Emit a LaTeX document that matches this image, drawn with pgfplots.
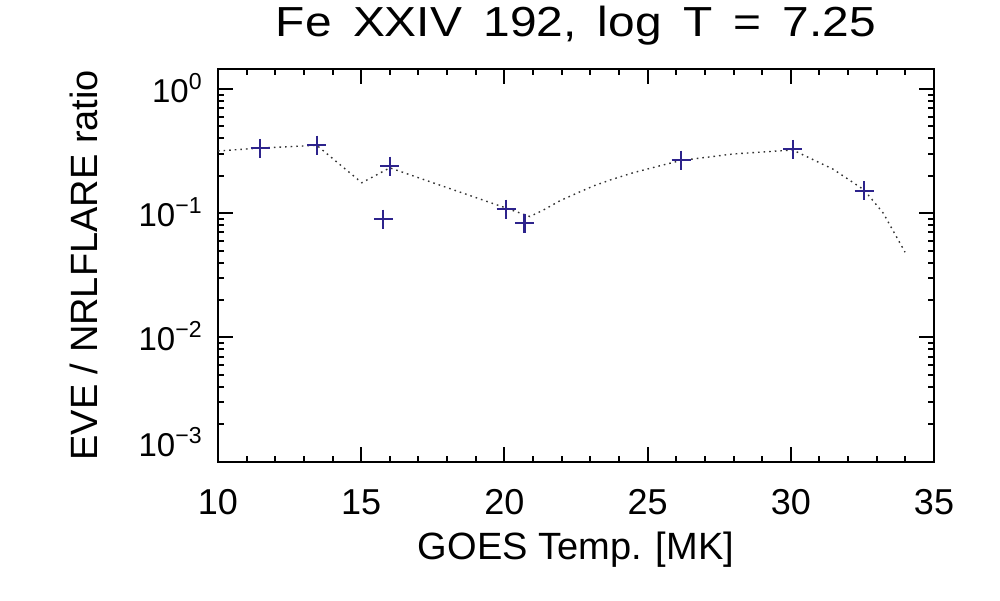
\documentclass[border=0pt]{standalone}
\usepackage{fontspec}
\setmainfont{Liberation Sans}
\newfontfamily\titlefont{Liberation Sans}[FakeStretch=1.14,WordSpace=1.6]
\usepackage{pgfplots}
\pgfplotsset{compat=1.18}
\definecolor{markblue}{RGB}{45,35,140}
\begin{document}
\begin{tikzpicture}[x=1pt,y=1pt]
\path[use as bounding box] (0,0) rectangle (500,300);
\begin{axis}[
  at={(109pt,69.25pt)}, anchor=south west,
  scale only axis, width=358pt, height=196.25pt,
  xmin=10, xmax=35,
  ymode=log, ymin=1e-3, ymax=1.45,
  xtick={10,15,20,25,30,35}, minor x tick num=4,
  ytick={1e-3,1e-2,1e-1,1},
  yticklabels={\raisebox{9pt}{10\textsuperscript{−3}},10\textsuperscript{−2},10\textsuperscript{−1},10\textsuperscript{0}},
  minor ytick={2e-3,3e-3,4e-3,5e-3,6e-3,7e-3,8e-3,9e-3,2e-2,3e-2,4e-2,5e-2,6e-2,7e-2,8e-2,9e-2,2e-1,3e-1,4e-1,5e-1,6e-1,7e-1,8e-1,9e-1},
  tick align=inside,
  major tick length=7.5pt, minor tick length=3pt,
  axis line style={line width=1pt},
  every tick/.style={line width=1pt, black},
  /pgf/number format/assume math mode=true,
  xticklabel style={font=\fontsize{18}{18}\selectfont, anchor=base, inner sep=0pt, yshift=-26.25pt},
  yticklabel style={font=\fontsize{16.5}{16.5}\selectfont, anchor=base east, inner sep=0pt, xshift=-7.5pt, yshift=-6.5pt},
  title={\titlefont Fe XXIV 192, log T = 7.25},
  title style={font=\fontsize{21}{21}\selectfont, at={(0.5,1)}, anchor=base, inner sep=0pt, yshift=10.5pt},
  xlabel={GOES Temp. [MK]},
  xlabel style={font=\fontsize{19}{19}\selectfont, at={(0.5,0)}, anchor=base, inner sep=0pt, yshift=-49pt},
  ylabel={EVE / NRLFLARE ratio},
  ylabel style={font=\fontsize{19}{19}\selectfont, at={([xshift=-60pt]axis description cs:0,0.5)}, anchor=base, inner sep=0pt},
  clip=false,
]
\addplot[black!80, line width=0.7pt, dash pattern=on 0.8pt off 2pt] coordinates {
(10.0,0.317) (11.47,0.335) (13.45,0.352) (15.02,0.176) (16.0,0.232)
(20.06,0.110) (20.89,0.094) (21.36,0.106) (21.94,0.126) (22.52,0.1446)
(23.10,0.1655) (23.69,0.185) (24.50,0.212) (25.67,0.249) (26.17,0.266)
(27.99,0.300) (30.07,0.323) (31.48,0.226) (32.56,0.154) (33.23,0.100)
(33.99,0.0485)
};
\addplot[only marks, mark=+, mark size=4.75pt, markblue, mark options={line width=1.1pt}] coordinates {
(11.47,0.333) (13.45,0.354) (16.00,0.240) (15.77,0.0895) (20.06,0.1077)
(20.70,0.0831) (26.17,0.268) (30.07,0.327) (32.56,0.152)
};
\end{axis}
\end{tikzpicture}
\end{document}
